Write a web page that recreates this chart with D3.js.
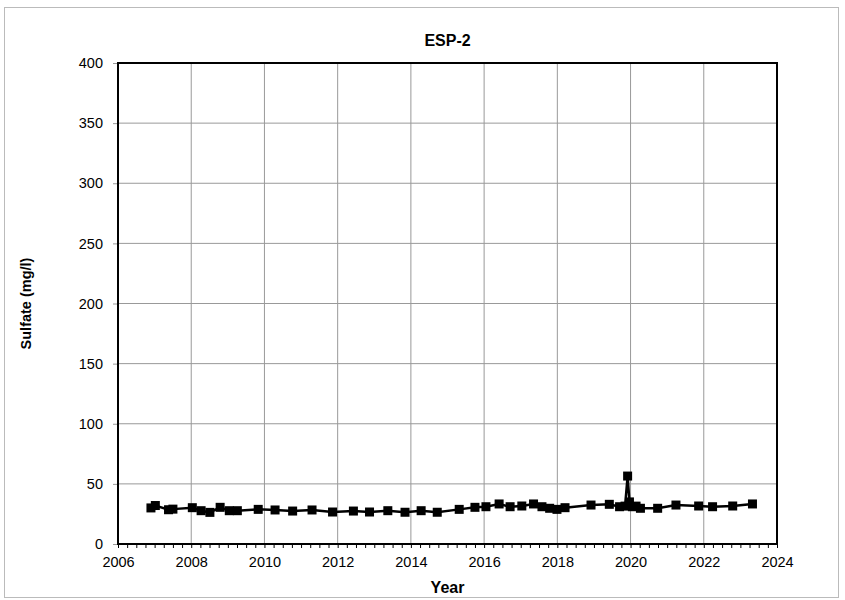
<!DOCTYPE html>
<meta charset="utf-8">
<style>
  body { margin: 0; background: #fff; }
  svg text { font-family: "Liberation Sans", Arial, sans-serif; fill: #000; }
  .grid line { stroke: #999; stroke-width: 1px; }
  .tick text { font-size: 14.5px; }
</style>
<body>
<script src="https://cdn.jsdelivr.net/npm/d3@7"></script>
<script>
// sampling dates (decimal year) and sulfate values
var years = [2006.9, 2007.02, 2007.38, 2007.5, 2008.03, 2008.27, 2008.51, 2008.79, 2009.04, 2009.26,
             2009.83, 2010.29, 2010.77, 2011.3, 2011.86, 2012.43, 2012.87, 2013.37, 2013.84,
             2014.28, 2014.72, 2015.32, 2015.75, 2016.05, 2016.41, 2016.71, 2017.03, 2017.35,
             2017.58, 2017.79, 2017.99, 2018.21, 2018.92, 2019.42, 2019.7, 2019.85, 2019.92,
             2019.97, 2020.05, 2020.15, 2020.27, 2020.74, 2021.24, 2021.86, 2022.24, 2022.79, 2023.33];
var sulfate = [30, 32, 28.5, 29, 30.2, 27.7, 26.3, 30.5, 27.7, 27.7,
               28.8, 28.3, 27.4, 28.3, 26.6, 27.4, 26.6, 27.7, 26.4,
               27.7, 26.4, 28.8, 30.5, 31, 33.3, 31, 31.6, 33.3,
               31, 29.7, 28.8, 30.2, 32.4, 33, 31, 31.5, 56.5,
               35, 31, 31.5, 29.7, 29.7, 32.4, 31.6, 31, 31.6, 33.3];
var xTicks = d3.range(2006, 2025, 2);
var yTicks = d3.range(0, 401, 50);

var W = 845, H = 600;
var plotLeft = 118, plotRight = 777, plotTop = 63, plotBottom = 544;

var svg = d3.select("body").append("svg")
    .attr("width", W)
    .attr("height", H);

// outer chart frame
svg.append("rect")
    .attr("x", 4.5).attr("y", 7.5)
    .attr("width", 834).attr("height", 590)
    .attr("fill", "none")
    .attr("stroke", "#bbb");

var x = d3.scaleLinear().domain([2006, 2024]).range([plotLeft, plotRight]);
var y = d3.scaleLinear().domain([0, 400]).range([plotBottom, plotTop]);

// grid
var grid = svg.append("g").classed("grid", true);
grid.selectAll("line.v").data(xTicks.slice(1, -1)).enter()
  .append("line")
    .attr("x1", function (d) { return x(d); })
    .attr("x2", function (d) { return x(d); })
    .attr("y1", plotTop).attr("y2", plotBottom);
grid.selectAll("line.h").data(yTicks.slice(1, -1)).enter()
  .append("line")
    .attr("x1", plotLeft).attr("x2", plotRight)
    .attr("y1", function (d) { return y(d); })
    .attr("y2", function (d) { return y(d); });

// x axis: minor ticks every quarter year, labels every 2 years
svg.append("g")
    .attr("transform", "translate(0," + plotBottom + ")")
    .call(d3.axisBottom(x).tickValues(d3.range(2006, 2024.01, 0.25)).tickSize(4).tickFormat(""))
    .call(function (g) { g.select(".domain").remove(); g.selectAll("line").attr("stroke", "#000"); });
svg.append("g")
    .attr("transform", "translate(0," + plotBottom + ")")
    .call(d3.axisBottom(x).tickValues(xTicks).tickSize(0).tickPadding(13).tickFormat(d3.format("d")))
    .call(function (g) { g.select(".domain").remove(); });

// y axis
svg.append("g")
    .attr("transform", "translate(" + plotLeft + ",0)")
    .call(d3.axisLeft(y).tickValues(yTicks).tickSize(5).tickPadding(10))
    .call(function (g) { g.select(".domain").remove(); g.selectAll("line").attr("stroke", "#999"); });

// plot frame
svg.append("rect")
    .attr("x", plotLeft).attr("y", plotTop)
    .attr("width", plotRight - plotLeft).attr("height", plotBottom - plotTop)
    .attr("fill", "none")
    .attr("stroke", "#000")
    .attr("stroke-width", 2);

// series
var pts = years.map(function (d, i) { return [d, sulfate[i]]; });
var line = d3.line()
    .x(function (d) { return x(d[0]); })
    .y(function (d) { return y(d[1]); });

svg.append("path")
    .attr("d", line(pts))
    .attr("fill", "none")
    .attr("stroke", "#000")
    .attr("stroke-width", 2.5);

svg.selectAll("rect.pt").data(pts).enter()
  .append("rect")
    .attr("x", function (d) { return x(d[0]) - 4.5; })
    .attr("y", function (d) { return y(d[1]) - 4.5; })
    .attr("width", 9).attr("height", 9)
    .attr("fill", "#000");

// titles
svg.append("text")
    .attr("x", (plotLeft + plotRight) / 2).attr("y", 46)
    .attr("text-anchor", "middle")
    .style("font-size", "16px").style("font-weight", "bold")
    .text("ESP-2");
svg.append("text")
    .attr("x", (plotLeft + plotRight) / 2).attr("y", 593)
    .attr("text-anchor", "middle")
    .style("font-size", "16px").style("font-weight", "bold")
    .text("Year");
svg.append("text")
    .attr("transform", "translate(31," + (plotTop + plotBottom) / 2 + ") rotate(-90)")
    .attr("text-anchor", "middle")
    .style("font-size", "14.5px").style("font-weight", "bold")
    .text("Sulfate (mg/l)");
</script>
</body>
